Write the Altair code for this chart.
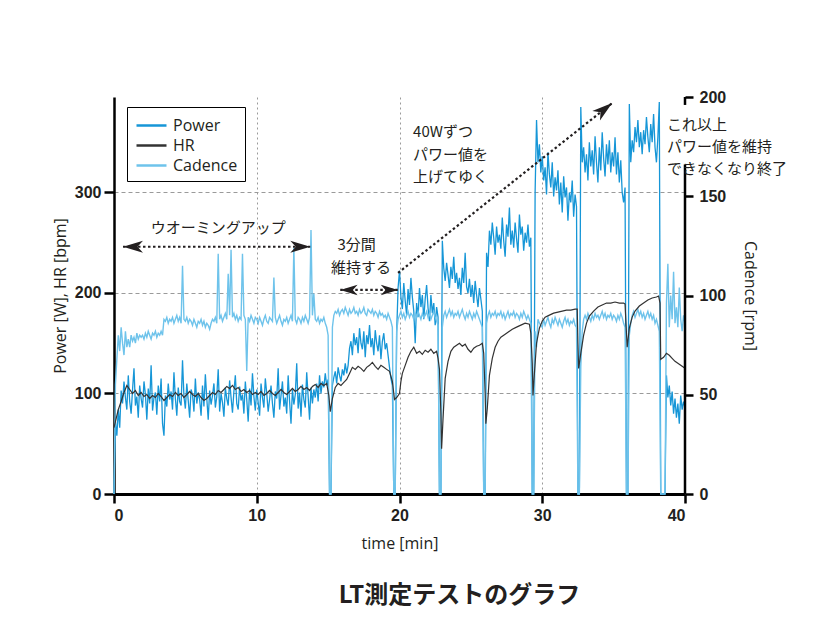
import altair as alt
import pandas as pd

SAMPLE_STEP_MIN = 0.1

# Power [W], one sample every 0.1 min from 0.0 to 40.0 (rows = 1 minute)
power_w = [
    0, 72, 58, 84, 66, 103, 90, 112, 96, 84,
    118, 92, 80, 104, 125, 88, 97, 76, 108, 95,
    86, 112, 99, 74, 105, 90, 128, 83, 96, 101,
    79, 108, 92, 115, 70, 58, 98, 87, 110, 94,
    102, 84, 121, 95, 78, 106, 92, 88, 133, 97,
    85, 110, 93, 76, 104, 99, 82, 115, 90, 101,
    94, 78, 108, 87, 119, 95, 74, 103, 89, 98,
    110, 86, 97, 124, 82, 100, 91, 77, 106, 95,
    88, 113, 96, 81, 102, 118, 90, 84, 107, 93,
    99, 80, 112, 94, 72, 105, 88, 120, 97, 83,
    104, 91, 78, 110, 96, 86, 115, 100, 82, 94,
    108, 90, 76, 102, 95, 125, 84, 98, 112, 87,
    96, 80, 118, 92, 70, 104, 89, 99, 130, 85,
    101, 77, 109, 94, 86, 121, 97, 74, 106, 90,
    104, 96, 110, 92, 118, 100, 112, 106, 120, 108,
    114, 0, 0, 108, 116, 122, 110, 126, 118, 112,
    124, 118, 130, 120, 128, 145, 152, 138, 160, 148,
    156, 140, 165, 150, 144, 162, 136, 158, 149, 168,
    146, 155, 138, 163, 150, 142, 158, 134, 152, 160,
    144, 150, 138, 126, 115, 108, 0, 0, 160, 205,
    222, 196, 184, 210, 192, 178, 204, 188, 215, 196,
    182, 150, 190, 176, 205, 186, 198, 174, 194, 208,
    185, 172, 198, 180, 190, 168, 186, 176, 0, 0,
    252, 225, 212, 230, 218, 205, 226, 214, 236, 210,
    220, 204, 215, 198, 225, 210, 240, 206, 200, 214,
    196, 208, 190, 212, 198, 186, 205, 194, 182, 0,
    0, 240, 226, 262, 248, 270, 255, 238, 266, 250,
    258, 244, 275, 252, 236, 268, 256, 285, 248, 262,
    245, 270, 254, 240, 278, 258, 266, 242, 260, 250,
    268, 246, 255, 0, 0, 300, 372, 330, 348, 320,
    336, 312, 325, 298, 340, 318, 305, 330, 296, 315,
    302, 322, 288, 310, 280, 316, 295, 305, 272, 300,
    290, 312, 276, 298, 286, 0, 0, 385, 330, 345,
    320, 338, 312, 350, 326, 342, 318, 356, 330, 310,
    345, 322, 360, 334, 316, 348, 328, 352, 320, 340,
    326, 355, 318, 340, 310, 332, 300, 290, 305, 0,
    0, 388, 330, 352, 340, 365, 350, 372, 345, 360,
    338, 362, 348, 375, 355, 340, 368, 350, 378, 345,
    330, 355, 390, 0, 0, 0, 0, 118, 96, 108,
    88, 102, 80, 95, 76, 90, 70, 98, 84, 92,
    86,
]

# Cadence [rpm], same sampling as power
cadence_rpm = [
    0, 55, 68, 80, 72, 84, 76, 70, 82, 74,
    78, 74, 80, 77, 79, 76, 81, 78, 80, 79,
    80, 78, 81, 79, 82, 80, 78, 81, 80, 82,
    79, 81, 80, 82, 80, 88, 87, 89, 86, 88,
    87, 89, 86, 88, 90, 87, 89, 86, 115, 88,
    87, 89, 86, 88, 87, 85, 88, 86, 84, 87,
    86, 88, 85, 87, 84, 86, 85, 83, 86, 88,
    87, 89, 86, 121, 88, 90, 87, 89, 91, 88,
    111, 90, 123, 89, 91, 88, 90, 87, 89, 88,
    121, 90, 88, 62, 89, 87, 90, 88, 86, 89,
    88, 86, 89, 87, 85, 88, 90, 87, 86, 89,
    88, 87, 109, 89, 86, 88, 90, 87, 85, 88,
    87, 89, 86, 88, 90, 87, 124, 88, 86, 89,
    88, 86, 89, 87, 90, 88, 86, 89, 133, 90,
    101, 88, 87, 89, 86, 88, 87, 89, 86, 84,
    80, 0, 0, 84, 90, 92, 91, 93, 90, 92,
    93, 91, 94, 92, 90, 93, 91, 92, 94, 91,
    92, 90, 93, 91, 92, 94, 91, 90, 93, 92,
    91, 93, 90, 92, 91, 89, 92, 90, 91, 89,
    90, 88, 91, 89, 87, 84, 0, 0, 82, 88,
    90, 92, 89, 91, 88, 90, 92, 89, 91, 90,
    88, 91, 89, 92, 90, 88, 91, 89, 90, 92,
    89, 91, 88, 90, 92, 89, 87, 85, 0, 0,
    84, 90, 92, 89, 91, 93, 90, 92, 89, 91,
    90, 92, 89, 91, 93, 90, 88, 91, 89, 92,
    90, 88, 91, 89, 92, 90, 88, 86, 84, 0,
    0, 86, 90, 92, 89, 91, 90, 92, 89, 91,
    90, 92, 89, 91, 88, 90, 92, 89, 91, 90,
    92, 89, 91, 90, 88, 91, 89, 92, 90, 88,
    90, 88, 86, 0, 0, 82, 74, 88, 86, 85,
    84, 88, 85, 87, 89, 86, 84, 88, 86, 89,
    87, 85, 88, 86, 84, 87, 89, 86, 88, 85,
    87, 86, 88, 85, 84, 0, 0, 64, 82, 88,
    90, 88, 91, 89, 87, 90, 88, 91, 89, 90,
    88, 90, 92, 89, 91, 88, 90, 89, 91, 88,
    90, 89, 87, 90, 88, 91, 89, 86, 84, 0,
    0, 80, 86, 90, 92, 89, 91, 93, 90, 92,
    89, 91, 88, 90, 92, 89, 91, 88, 90, 86,
    88, 85, 82, 0, 0, 0, 0, 96, 116, 84,
    100, 88, 112, 86, 94, 84, 104, 88, 82, 90,
    86,
]

# Heart rate [bpm] as (time [min], bpm)
hr_points = [
    (0.0, 66), (0.1, 72), (0.3, 84), (0.5, 92), (0.7, 101), (0.9, 108), (1.1, 104), (1.3, 100),
    (1.5, 103), (1.7, 98), (1.9, 101), (2.1, 97), (2.3, 99), (2.5, 95), (2.7, 98), (2.9, 96),
    (3.1, 100), (3.3, 97), (3.5, 93), (3.7, 96), (3.9, 99), (4.1, 97), (4.3, 101), (4.5, 98),
    (4.7, 100), (4.9, 96), (5.1, 99), (5.3, 102), (5.5, 99), (5.7, 97), (5.9, 100), (6.1, 96),
    (6.3, 93), (6.5, 95), (6.7, 98), (6.9, 101), (7.1, 99), (7.3, 103), (7.5, 101), (7.7, 104),
    (7.9, 107), (8.1, 105), (8.3, 108), (8.5, 104), (8.7, 106), (8.9, 102), (9.1, 104), (9.3, 101),
    (9.5, 103), (9.7, 99), (9.9, 101), (10.1, 99), (10.3, 102), (10.5, 98), (10.7, 100), (10.9, 103),
    (11.1, 100), (11.3, 98), (11.5, 101), (11.7, 104), (11.9, 101), (12.1, 99), (12.3, 102), (12.5, 105),
    (12.7, 102), (12.9, 104), (13.1, 107), (13.3, 104), (13.5, 106), (13.7, 103), (13.9, 107), (14.1, 109),
    (14.3, 106), (14.5, 110), (14.7, 108), (14.9, 110), (15.05, 98), (15.15, 82), (15.3, 95), (15.5, 106),
    (15.7, 110), (15.9, 108), (16.1, 111), (16.3, 114), (16.5, 120), (16.7, 126), (16.9, 124), (17.1, 127),
    (17.3, 125), (17.5, 122), (17.7, 126), (17.9, 128), (18.1, 131), (18.3, 127), (18.5, 124), (18.7, 128),
    (18.9, 126), (19.1, 124), (19.3, 122), (19.5, 112), (19.65, 94), (19.8, 96), (20.0, 100), (20.1, 112),
    (20.2, 120), (20.4, 128), (20.6, 136), (20.8, 142), (21.0, 146), (21.2, 140), (21.4, 142), (21.6, 139),
    (21.8, 143), (22.0, 141), (22.2, 144), (22.4, 140), (22.6, 142), (22.7, 135), (22.8, 124), (22.9, 80),
    (22.95, 45), (23.05, 75), (23.2, 115), (23.4, 132), (23.6, 142), (23.8, 146), (24.0, 148), (24.2, 150),
    (24.4, 147), (24.6, 149), (24.8, 144), (25.0, 141), (25.2, 145), (25.4, 147), (25.6, 148), (25.8, 150),
    (25.9, 140), (26.0, 100), (26.05, 70), (26.15, 85), (26.3, 118), (26.5, 135), (26.7, 146), (26.9, 152),
    (27.1, 156), (27.3, 158), (27.6, 161), (27.9, 164), (28.2, 166), (28.5, 168), (28.8, 170), (29.1, 169),
    (29.2, 160), (29.3, 130), (29.35, 98), (29.45, 120), (29.6, 150), (29.8, 165), (30.0, 172), (30.2, 176),
    (30.5, 178), (30.8, 180), (31.1, 181), (31.4, 182), (31.7, 183), (32.0, 183), (32.3, 184), (32.45, 184),
    (32.5, 150), (32.55, 125), (32.7, 140), (32.9, 158), (33.1, 170), (33.3, 177), (33.6, 182), (33.9, 186),
    (34.2, 188), (34.5, 190), (34.8, 190), (35.1, 191), (35.4, 190), (35.7, 190), (35.8, 189), (35.9, 160),
    (35.95, 146), (36.1, 165), (36.3, 176), (36.5, 182), (36.8, 187), (37.1, 190), (37.4, 193), (37.7, 195),
    (38.0, 196), (38.15, 197), (38.25, 190), (38.3, 134), (38.5, 136), (38.7, 140), (38.9, 138), (39.1, 135),
    (39.3, 132), (39.5, 130), (39.7, 128), (39.9, 126), (40.0, 125),
]

series_names = ["Power", "HR", "Cadence"]
series_colors = ["#1696d7", "#333333", "#6ec3eb"]

x_domain = [0, 40]
x_ticks = [0, 10, 20, 30, 40]
left_domain = [0, 395]
left_ticks = [0, 100, 200, 300]
right_domain = [0, 200]
right_ticks = [0, 50, 100, 150, 200]

# annotations in data units (time [min], left-axis value)
center_labels = ["ウオーミングアップ", "3分間", "維持する"]
center_t = [7.3, 17.0, 17.3]
center_v = [265, 248, 225]
left_labels = ["40Wずつ", "パワー値を", "上げてゆく", "これ以上", "パワー値を維持", "できなくなり終了"]
left_t = [20.95, 20.95, 20.95, 38.74, 38.74, 38.74]
left_v = [360, 337, 315, 367, 345, 323]
arrow_t = [0.63, 15.85, 19.9]
arrow_v = [246, 203, 220]
arrow_t2 = [13.75, 19.9, 34.9]
arrow_v2 = [246, 203, 389]
head_t = [0.63, 13.75, 15.85, 19.9, 34.9]
head_v = [246, 246, 203, 203, 389]
head_angle = [0, 180, 0, 180, 141.6]
head_size = [400, 400, 300, 300, 420]
# broken right axis line (cadence units)
raxis_c = [0, 196]
raxis_c2 = [166, 200]

# ---------------------------------------------------------------
t_grid = [round(i * SAMPLE_STEP_MIN, 1) for i in range(len(power_w))]
power_df = pd.DataFrame({"t": t_grid, "v": power_w, "series": "Power"})
cad_df = pd.DataFrame({"t": t_grid, "v": cadence_rpm, "series": "Cadence"})
hr_df = pd.DataFrame({"t": [p[0] for p in hr_points], "v": [p[1] for p in hr_points], "series": "HR"})
ctext_df = pd.DataFrame({"t": center_t, "v": center_v, "label": center_labels})
ltext_df = pd.DataFrame({"t": left_t, "v": left_v, "label": left_labels})
arrow_df = pd.DataFrame({"t": arrow_t, "v": arrow_v, "t2": arrow_t2, "v2": arrow_v2})
head_df = pd.DataFrame({"t": head_t, "v": head_v, "angle": head_angle, "size": head_size})
raxis_df = pd.DataFrame({"t": [x_domain[1]] * 2, "c": raxis_c, "c2": raxis_c2})

INK = "#231f20"
TICK_FONT = "Liberation Sans"
TEXT_FONT = "Open Sans"
JP_FONT = "Noto Sans CJK JP"

x_axis = alt.Axis(
    values=x_ticks, grid=True, gridDash=[2, 3], gridColor="#9a9a9a", gridWidth=1,
    gridOpacity={"condition": {"test": "datum.value === 0 || datum.value === 40", "value": 0}, "value": 1},
    domainColor="black", domainWidth=3, tickColor="black", tickWidth=2.5, tickSize=9,
    labelFont=TICK_FONT, labelFontSize=16, labelFontWeight="bold", labelColor=INK, labelPadding=4,
    title="time [min]", titleFont=TEXT_FONT, titleFontSize=16, titleFontWeight="normal",
    titleColor=INK, titlePadding=12,
)
x_scale = alt.Scale(domain=x_domain, nice=False, zero=False)


def xenc():
    return alt.X("t:Q", scale=x_scale, axis=x_axis)


left_axis = alt.Axis(
    orient="left", values=left_ticks, grid=True, gridDash=[4, 3], gridColor="#9a9a9a", gridWidth=1,
    domainColor="black", domainWidth=2.5, tickColor="black", tickWidth=2.5, tickSize=10,
    labelFont=TICK_FONT, labelFontSize=16, labelFontWeight="bold", labelColor=INK, labelPadding=3,
    title="Power [W], HR [bpm]", titleFont=TEXT_FONT, titleFontSize=16, titleFontWeight="normal",
    titleColor=INK, titlePadding=6,
)
right_axis = alt.Axis(
    orient="right", values=right_ticks, grid=False, domain=False,
    tickColor="black", tickWidth=2.5, tickSize=8,
    labelFont=TICK_FONT, labelFontSize=16, labelFontWeight="bold", labelColor=INK, labelPadding=6,
    title="Cadence [rpm]", titleFont=TEXT_FONT, titleFontSize=16, titleFontWeight="normal",
    titleColor=INK, titlePadding=16,
)
left_scale = alt.Scale(domain=left_domain, nice=False, zero=True)
right_scale = alt.Scale(domain=right_domain, nice=False, zero=True)
color_scale = alt.Scale(domain=series_names, range=series_colors)

legend = alt.Legend(
    orient="none", legendX=13, legendY=10, title=None, symbolType="M-0.9,0H2.1", symbolSize=400,
    symbolStrokeWidth=2.5, labelFont=TEXT_FONT, labelFontSize=16, labelColor=INK,
    strokeColor="black", fillColor="white", padding=7, labelOffset=16, rowPadding=0,
)

power_layer = alt.Chart(power_df).mark_line(strokeWidth=1.3).encode(
    x=xenc(), y=alt.Y("v:Q", scale=left_scale, axis=left_axis),
    color=alt.Color("series:N", scale=color_scale, legend=legend),
)
cad_layer = alt.Chart(cad_df).mark_line(strokeWidth=1.4).encode(
    x=xenc(), y=alt.Y("v:Q", scale=right_scale, axis=right_axis),
    color=alt.Color("series:N", scale=color_scale, legend=None),
)
hr_layer = alt.Chart(hr_df).mark_line(strokeWidth=1.2).encode(
    x=xenc(), y=alt.Y("v:Q", scale=left_scale, axis=None),
    color=alt.Color("series:N", scale=color_scale, legend=None),
)
raxis_layer = alt.Chart(raxis_df).mark_rule(color="black", strokeWidth=2.5).encode(
    x=xenc(), y=alt.Y("c:Q", scale=right_scale, axis=None), y2="c2:Q",
)

arrow_rules = alt.Chart(arrow_df).mark_rule(color=INK, strokeWidth=2.2, strokeDash=[2.5, 2.5]).encode(
    x=xenc(), x2="t2:Q", y=alt.Y("v:Q", scale=left_scale, axis=None), y2="v2:Q",
)
arrow_heads = alt.Chart(head_df).mark_point(
    shape="M0,0L2,-0.6L1.45,0L2,0.6Z", filled=True, color=INK, opacity=1, strokeWidth=0,
).encode(
    x=xenc(), y=alt.Y("v:Q", scale=left_scale, axis=None),
    angle=alt.Angle("angle:Q", scale=None), size=alt.Size("size:Q", scale=None),
)
center_text = alt.Chart(ctext_df).mark_text(
    font=JP_FONT, fontSize=15, color=INK, align="center", baseline="middle",
).encode(x=xenc(), y=alt.Y("v:Q", scale=left_scale, axis=None), text="label:N")
left_text = alt.Chart(ltext_df).mark_text(
    font=JP_FONT, fontSize=15, color=INK, align="left", baseline="middle",
).encode(x=xenc(), y=alt.Y("v:Q", scale=left_scale, axis=None), text="label:N")

annotations = alt.layer(arrow_rules, arrow_heads, center_text, left_text)

chart = alt.layer(
    power_layer, cad_layer, hr_layer, raxis_layer, annotations,
).resolve_scale(y="independent").properties(
    width=571, height=397,
    autosize=alt.AutoSizeParams(type="none"),
    padding={"left": 106, "top": 89, "right": 147, "bottom": 139},
    title=alt.TitleParams(
        "LT測定テストのグラフ", orient="bottom", anchor="middle", dx=60, offset=33,
        font=JP_FONT, fontSize=24, fontWeight="bold", color=INK,
    ),
).configure_view(stroke=None)

chart.save("out.html", embed_options={"renderer": "svg", "actions": False})
